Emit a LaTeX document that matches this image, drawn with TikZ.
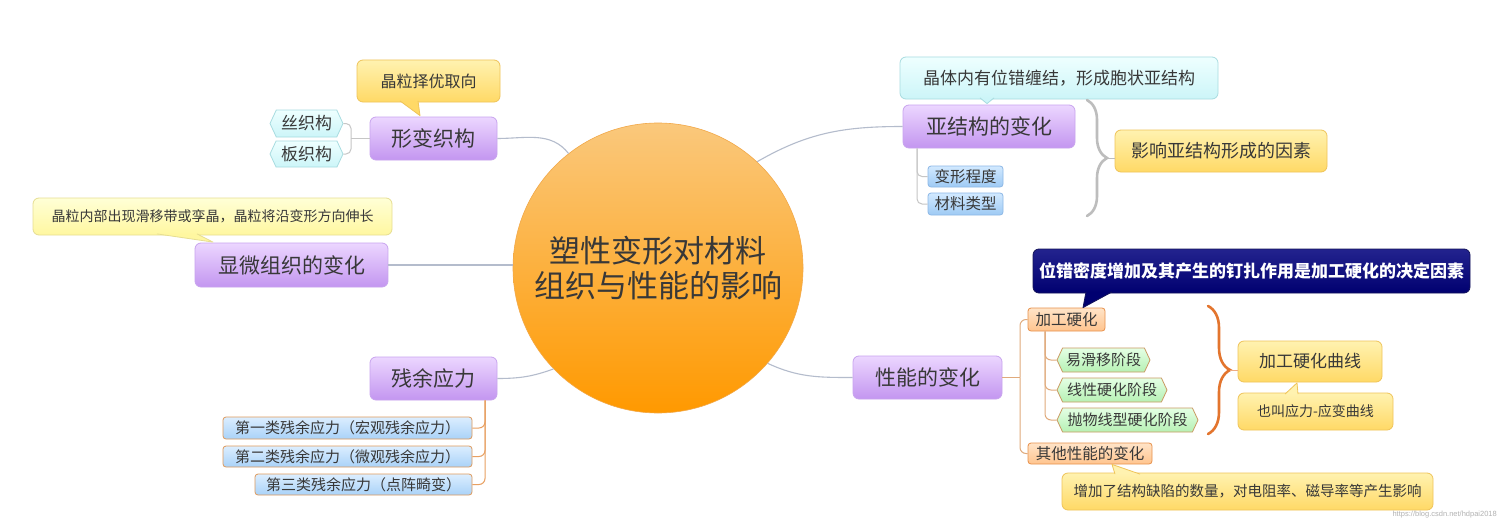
\documentclass[tikz,border=0pt]{standalone}
\usepackage{fontspec}
\setmainfont{Noto Sans CJK SC}
\newfontfamily\wmfont{Liberation Sans}
\usetikzlibrary{shapes.symbols,decorations.pathreplacing,calc}
\definecolor{txt}{HTML}{383838}
\definecolor{pu1}{HTML}{ECD6FF}\definecolor{pu2}{HTML}{C396F0}\definecolor{pub}{HTML}{C8A4EE}
\definecolor{or1}{HTML}{FAC87C}\definecolor{or2}{HTML}{FF9D0A}\definecolor{or3}{HTML}{FF9900}\definecolor{orb}{HTML}{F2A848}
\definecolor{ye1}{HTML}{FFF2B0}\definecolor{ye2}{HTML}{FFD966}\definecolor{yeb}{HTML}{EFC45A}
\definecolor{ly1}{HTML}{FFFFD6}\definecolor{ly2}{HTML}{FFF7A0}\definecolor{lyb}{HTML}{E6DE92}
\definecolor{cy1}{HTML}{EEFFFF}\definecolor{cy2}{HTML}{CCF5F8}\definecolor{cyb}{HTML}{A8DCE0}
\definecolor{bl1}{HTML}{D2E9FF}\definecolor{bl2}{HTML}{9ECAF4}\definecolor{blb}{HTML}{8DB8E6}
\definecolor{lb1}{HTML}{DCEEFF}\definecolor{lb2}{HTML}{A9D2F8}\definecolor{lbb}{HTML}{DE9A5C}
\definecolor{gr1}{HTML}{E4FFE4}\definecolor{gr2}{HTML}{B6F0B4}\definecolor{grb}{HTML}{C99A62}
\definecolor{pe1}{HTML}{FFE4C8}\definecolor{pe2}{HTML}{FFC48E}\definecolor{peb}{HTML}{E8914C}
\definecolor{nv1}{HTML}{23238E}\definecolor{nv2}{HTML}{000070}\definecolor{nvb}{HTML}{14145A}
\definecolor{gline}{HTML}{B4BCCC}\definecolor{sline}{HTML}{C6C6C6}\definecolor{oline}{HTML}{E8A062}
\definecolor{tline}{HTML}{E0AA7C}\definecolor{brg}{HTML}{BDBDBD}\definecolor{bro}{HTML}{E3752E}
\newcommand\callptr[5]{\fill[#1] #3 -- #5 -- #4 -- cycle; \draw[#2, line width=0.8pt, line join=round] #3 -- #5 -- #4;}
\begin{document}
\begin{tikzpicture}[x=1pt,y=-1pt,
  every node/.style={inner sep=0pt, text=txt},
  box/.style={rounded corners=6pt, draw, line width=0.8pt},
  topic/.style={box, top color=pu1, bottom color=pu2, draw=pub, font=\fontsize{21}{25}\selectfont},
  yel/.style={box, top color=ye1, bottom color=ye2, draw=yeb},
  lyel/.style={box, top color=ly1, bottom color=ly2, draw=lyb},
  cyan/.style={box, top color=cy1, bottom color=cy2, draw=cyb},
  blu/.style={box, rounded corners=3pt, top color=bl1, bottom color=bl2, draw=blb, font=\fontsize{15.5}{18}\selectfont},
  lblu/.style={box, rounded corners=3pt, top color=lb1, bottom color=lb2, draw=lbb, font=\fontsize{15}{18}\selectfont},
  peach/.style={box, rounded corners=3pt, top color=pe1, bottom color=pe2, draw=peb, font=\fontsize{15.5}{18}\selectfont},
  navy/.style={box, top color=nv1, bottom color=nv2, draw=nvb, text=white, font=\fontsize{17}{20}\selectfont\bfseries},
  hexc/.style={signal, signal to=east and west, signal pointer angle=130, draw=cyb, line width=0.8pt, top color=cy1, bottom color=cy2, font=\fontsize{17}{20}\selectfont},
  hexg/.style={signal, signal to=east and west, signal pointer angle=130, draw=grb, line width=0.8pt, top color=gr1, bottom color=gr2, font=\fontsize{15}{18}\selectfont},
  conn/.style={draw=gline, line width=1.1pt},
  gconn/.style={draw=sline, line width=1pt, rounded corners=5pt},
  oconn/.style={draw=oline, line width=1pt, rounded corners=6pt},
  tconn/.style={draw=tline, line width=1pt, rounded corners=6pt},
  bracedeco/.style={decorate, decoration={brace, amplitude=#1}, line width=2.6pt, line cap=round}
]
\fill[white] (0,0) rectangle (1501,519);
\useasboundingbox (0,0) rectangle (1501,519);

% center
\node[circle, minimum size=290pt, draw=orb, line width=0.6pt, top color=or1, middle color=or2, bottom color=or3,
      align=center, font=\fontsize{31}{35}\selectfont] (c) at (658,268) {塑性变形对材料\\组织与性能的影响};

% left-top: 形变织构
\node[topic, minimum width=127pt, minimum height=43pt] (xbzg) at (433.5,138.5) {形变织构};
\node[yel, minimum width=143pt, minimum height=42pt, font=\fontsize{16}{19}\selectfont] (jlzy) at (428.5,81) {晶粒择优取向};
\callptr{ye2}{yeb}{($(jlzy.south)+(-28.5,-1.5)$)}{($(jlzy.south)+(-10.5,-1.5)$)}{($(xbzg.north)+(-13.5,-1)$)}
\node[hexc, minimum width=73pt, minimum height=27pt] (szg) at (306.5,123.5) {丝织构};
\node[hexc, minimum width=73pt, minimum height=26pt] (bzg) at (306.5,154) {板织构};
\coordinate (j1) at (351,139);
\draw[gconn] (szg.east) -- (szg.east -| j1) -- (bzg.east -| j1) -- (bzg.east);
\draw[gconn] (xbzg.west) -- (xbzg.west -| j1);

% left-middle: 显微组织的变化
\node[topic, minimum width=193pt, minimum height=44pt] (xwzz) at (291.5,265) {显微组织的变化};
\node[lyel, minimum width=359pt, minimum height=37pt, font=\fontsize{14}{17}\selectfont] (jlnb) at (212.5,216.5) {晶粒内部出现滑移带或孪晶，晶粒将沿变形方向伸长};
\callptr{ly2}{lyb}{($(jlnb.south)+(-55.5,-1.5)$)}{($(jlnb.south)+(-15.5,-1.5)$)}{($(xwzz.north)+(-78.5,-0.5)$)}

% left-bottom: 残余应力
\node[topic, minimum width=127pt, minimum height=43pt] (cyyl) at (433.5,378.5) {残余应力};
\node[lblu, minimum width=249pt, minimum height=22pt] (d1) at (347.5,428) {第一类残余应力（宏观残余应力）};
\node[lblu, minimum width=249pt, minimum height=21pt] (d2) at (347.5,456.5) {第二类残余应力（微观残余应力）};
\node[lblu, minimum width=217pt, minimum height=21pt] (d3) at (363.5,484.5) {第三类残余应力（点阵畸变）};
\coordinate (j2) at (485,0);
\draw[oconn] (cyyl.south -| j2) -- (d1.east -| j2) -- (d1.east);
\draw[oconn] (cyyl.south -| j2) -- (d2.east -| j2) -- (d2.east);
\draw[oconn] (cyyl.south -| j2) -- (d3.east -| j2) -- (d3.east);

% right-top: 亚结构的变化
\node[topic, minimum width=172pt, minimum height=43pt] (yjg) at (989,126.5) {亚结构的变化};
\node[cyan, minimum width=318pt, minimum height=42pt, font=\fontsize{17}{20}\selectfont] (jtnb) at (1059,78) {晶体内有位错缠结，形成胞状亚结构};
\callptr{cy2}{cyb}{($(jtnb.south)+(-79,-1.5)$)}{($(jtnb.south)+(-65,-1.5)$)}{($(yjg.north)+(-2,-1)$)}
\node[blu, minimum width=75pt, minimum height=21pt] (bxcd) at (965.5,176.5) {变形程度};
\node[blu, minimum width=75pt, minimum height=22pt] (clx) at (965.5,204) {材料类型};
\coordinate (j3) at (917,0);
\draw[gconn] (yjg.south -| j3) -- (bxcd.west -| j3) -- (bxcd.west);
\draw[gconn] (yjg.south -| j3) -- (clx.west -| j3) -- (clx.west);
\node[yel, minimum width=212pt, minimum height=42pt, font=\fontsize{18}{21}\selectfont] (yx) at (1221,151) {影响亚结构形成的因素};
\coordinate (bgt) at (1087,100);
\coordinate (bgb) at (1087,216);
\coordinate (bgm) at (1107,158);
\draw[brg, bracedeco=20pt] (bgt) -- (bgb);
\draw[brg, line width=1pt] (bgm) -- (yx.west |- bgm);

% right-bottom: 性能的变化
\node[topic, minimum width=149pt, minimum height=43pt] (xn) at (927.5,377.5) {性能的变化};
\node[navy, minimum width=437pt, minimum height=44pt] (nv) at (1251.5,271) {位错密度增加及其产生的钉扎作用是加工硬化的决定因素};
\node[peach, minimum width=77pt, minimum height=23pt] (jgyh) at (1066.5,319.5) {加工硬化};
\callptr{nv2}{nvb}{($(nv.south)+(-165.5,-1.5)$)}{($(nv.south)+(-139.5,-1.5)$)}{($(jgyh.north)+(16.5,0)$)}
\node[hexg, minimum width=93pt, minimum height=24pt] (g1) at (1103.5,360) {易滑移阶段};
\node[hexg, minimum width=110pt, minimum height=24pt] (g2) at (1112,390) {线性硬化阶段};
\node[hexg, minimum width=141pt, minimum height=24pt] (g3) at (1127.5,420) {抛物线型硬化阶段};
\node[peach, minimum width=124pt, minimum height=21pt] (qt) at (1090,453.5) {其他性能的变化};
\coordinate (j4) at (1020,0);
\coordinate (j5) at (1045,0);
\draw[tconn] (xn.east) -- (xn.east -| j4);
\draw[tconn] (xn.east -| j4) -- (jgyh.west -| j4) -- (jgyh.west);
\draw[tconn] (xn.east -| j4) -- (qt.west -| j4) -- (qt.west);
\draw[tconn] (jgyh.south -| j5) -- (g1.west -| j5) -- (g1.west);
\draw[tconn] (jgyh.south -| j5) -- (g2.west -| j5) -- (g2.west);
\draw[tconn] (jgyh.south -| j5) -- (g3.west -| j5) -- (g3.west);
\node[yel, minimum width=144pt, minimum height=41pt, font=\fontsize{17}{20}\selectfont] (jyqx) at (1310,361.5) {加工硬化曲线};
\node[yel, minimum width=155pt, minimum height=37pt, font=\fontsize{14}{17}\selectfont] (yj) at (1315.5,411.5) {也叫应力-应变曲线};
\callptr{ye1}{yeb}{($(yj.north)+(-30.5,1.5)$)}{($(yj.north)+(-17.5,1.5)$)}{($(jyqx.south)+(-13,0.5)$)}
\coordinate (bot) at (1208,306);
\coordinate (bob) at (1208,434);
\coordinate (bom) at (1230,370);
\draw[bro, bracedeco=22pt] (bot) -- (bob);
\draw[bro!60, line width=1pt] (bom) -- (jyqx.west |- bom);
\node[yel, minimum width=371pt, minimum height=37pt, font=\fontsize{14.5}{17}\selectfont] (zj) at (1247.5,491.5) {增加了结构缺陷的数量，对电阻率、磁导率等产生影响};
\callptr{ye1}{yeb}{($(zj.north)+(-132.5,1.5)$)}{($(zj.north)+(-107.5,1.5)$)}{($(qt.south)+(22,0)$)}

% main connectors
\draw[conn] (xbzg.east) to[out=0, in=128] (c.128);
\draw[conn] (xwzz.east) -- (xwzz.east -| c.west);
\draw[conn] (cyyl.east) to[out=0, in=200] (c.224);
\draw[conn] (c.47) to[out=30, in=180] (yjg.west);
\draw[conn] (c.319) to[out=-25, in=180] (xn.west);

% watermark (moved just below the callout so it does not cover its text)
\node[text=black!30, font=\wmfont\fontsize{7.5}{8}\selectfont, anchor=east] (wm) at (1497,514.5) {https://blog.csdn.net/hdpai2018};
\end{tikzpicture}
\end{document}
